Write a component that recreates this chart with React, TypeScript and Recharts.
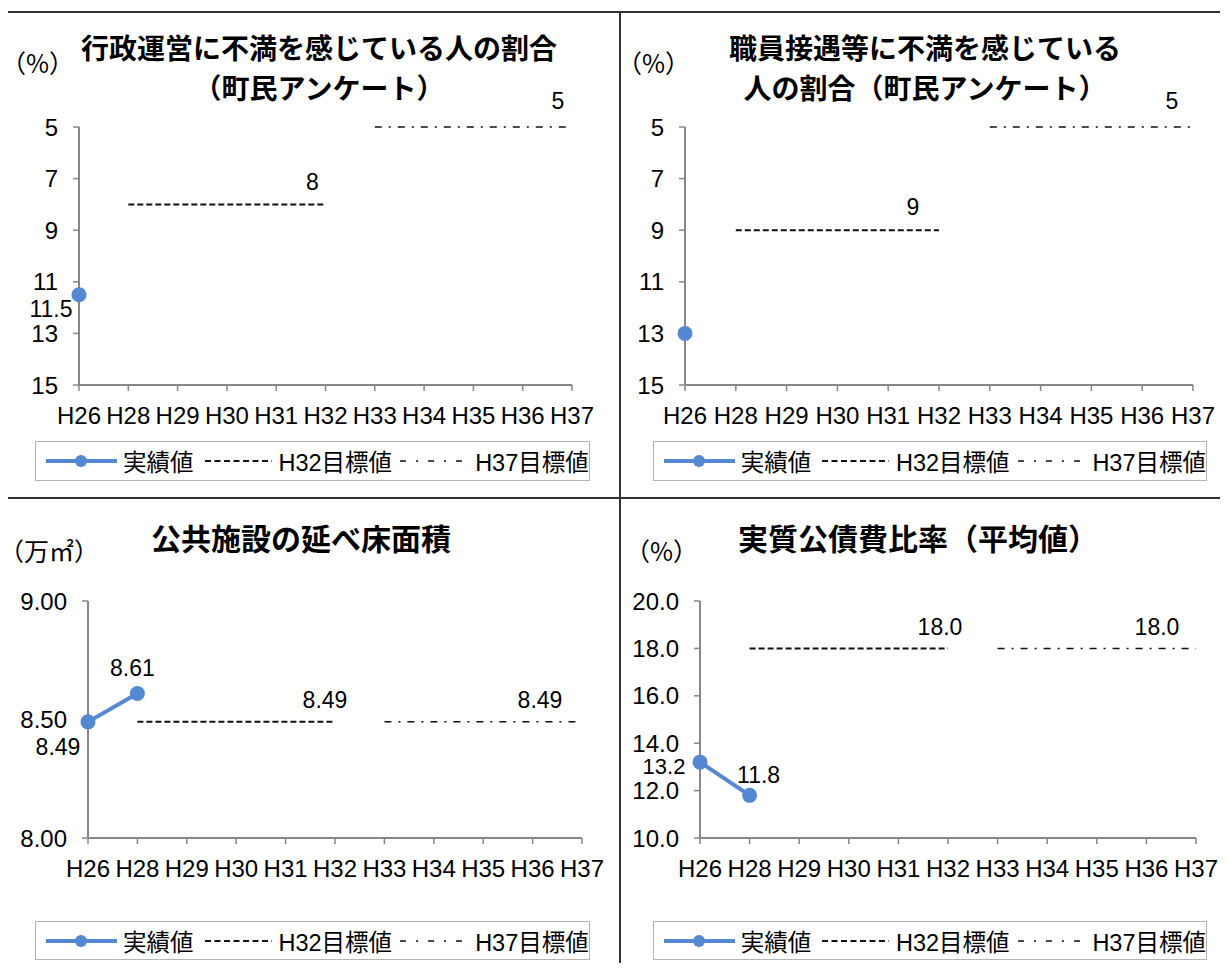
import React from "react";
import { LineChart, Line, XAxis, YAxis, Legend } from "recharts";

const YEARS = ["H26", "H28", "H29", "H30", "H31", "H32", "H33", "H34", "H35", "H36", "H37"];

// 行政運営に不満を感じている人の割合
const GYOSEI_ACTUAL = [11.5, null, null, null, null, null, null, null, null, null, null];
const GYOSEI_H32 = [null, 8, 8, 8, 8, 8, null, null, null, null, null];
const GYOSEI_H37 = [null, null, null, null, null, null, 5, 5, 5, 5, 5];

// 職員接遇等に不満を感じている人の割合
const SHOKUIN_ACTUAL = [13, null, null, null, null, null, null, null, null, null, null];
const SHOKUIN_H32 = [null, 9, 9, 9, 9, 9, null, null, null, null, null];
const SHOKUIN_H37 = [null, null, null, null, null, null, 5, 5, 5, 5, 5];

// 公共施設の延べ床面積
const SHISETSU_ACTUAL = [8.49, 8.61, null, null, null, null, null, null, null, null, null];
const SHISETSU_H32 = [null, 8.49, 8.49, 8.49, 8.49, 8.49, null, null, null, null, null];
const SHISETSU_H37 = [null, null, null, null, null, null, 8.49, 8.49, 8.49, 8.49, 8.49];

// 実質公債費比率（平均値）
const KOSAI_ACTUAL = [13.2, 11.8, null, null, null, null, null, null, null, null, null];
const KOSAI_H32 = [null, 18, 18, 18, 18, 18, null, null, null, null, null];
const KOSAI_H37 = [null, null, null, null, null, null, 18, 18, 18, 18, 18];

const PERCENT_TICKS = [5, 7, 9, 11, 13, 15];
const AREA_TICKS = [8, 8.5, 9];
const RATIO_TICKS = [10, 12, 14, 16, 18, 20];

const BLUE = "#5588d2";
const AXIS = "#878787";
const NUM_FONT = "'Liberation Sans', Arial, 'Noto Sans CJK JP', sans-serif";
const JP_FONT = "'Noto Sans CJK JP', 'Noto Sans CJK SC', sans-serif";
const FS = 24;

const buildRows = (actual: (number | null)[], h32: (number | null)[], h37: (number | null)[]) =>
  YEARS.map((year, i) => ({ year, actual: actual[i], h32: h32[i], h37: h37[i] }));

// [dx, dy, fontSize?] relative to the point
type Offsets = Record<number, [number, number, number?]>;

const makeLabel = (offsets: Offsets, fmt: (v: number) => string) => (props: any) => {
  const { x, y, value, index } = props;
  const off = offsets[index];
  if (!off || value == null) return null;
  return (
    <text
      key={`lbl-${index}`}
      x={x + off[0]}
      y={y + off[1]}
      textAnchor="middle"
      dominantBaseline="central"
      fontSize={off[2] ?? 23}
      fontFamily={NUM_FONT}
      fill="#000"
    >
      {fmt(value)}
    </text>
  );
};

const LegendBox = ({ width, height }: { width: number; height: number }) => (
  <div
    style={{
      width,
      height,
      boxSizing: "border-box",
      border: "1.5px solid #b4b4b4",
      display: "flex",
      alignItems: "center",
      paddingLeft: 10,
      fontFamily: NUM_FONT,
      fontSize: 23.5,
      color: "#000",
      whiteSpace: "nowrap",
      overflow: "hidden",
      background: "#fff",
    }}
  >
    <svg width={71} height={20}>
      <line x1={0} y1={10} x2={71} y2={10} stroke={BLUE} strokeWidth={4} />
      <circle cx={35} cy={10} r={6} fill={BLUE} />
    </svg>
    <span style={{ marginLeft: 6 }}>実績値</span>
    <svg width={67} height={20} style={{ marginLeft: 11 }}>
      <line x1={0} y1={10} x2={67} y2={10} stroke="#111" strokeWidth={2} strokeDasharray="6 3.5" />
    </svg>
    <span style={{ marginLeft: 7 }}>H32目標値</span>
    <svg width={65} height={20} style={{ marginLeft: 8 }}>
      <line x1={0} y1={10} x2={65} y2={10} stroke="#111" strokeWidth={1.5} strokeDasharray="6 10 2 10" />
    </svg>
    <span style={{ marginLeft: 10 }}>H37目標値</span>
  </div>
);

type PanelProps = {
  left: number;
  top: number;
  width: number;
  height: number;
  rows: any[];
  title: string[];
  titleSize: number;
  titleX: number;
  titleY: number;
  unit: string;
  unitX: number;
  unitY: number;
  margin: { top: number; right: number; bottom: number; left: number };
  yWidth: number;
  domain: [number, number];
  ticks: number[];
  reversed?: boolean;
  fmt: (v: number) => string;
  labels: { actual: Offsets; h32: Offsets; h37: Offsets };
  legend: { left: number; top: number; width: number; height: number };
};

const Panel = (p: PanelProps) => (
  <div style={{ position: "absolute", left: p.left, top: p.top, width: p.width, height: p.height }}>
    <div
      style={{
        position: "absolute",
        left: p.titleX - 300,
        top: p.titleY,
        width: 600,
        textAlign: "center",
        fontFamily: JP_FONT,
        fontWeight: 700,
        fontSize: p.titleSize,
        lineHeight: "40px",
        color: "#000",
        zIndex: 2,
      }}
    >
      {p.title.map((t) => (
        <div key={t}>{t}</div>
      ))}
    </div>
    <div
      style={{
        position: "absolute",
        left: p.unitX,
        top: p.unitY,
        fontFamily: JP_FONT,
        fontSize: 25,
        lineHeight: "28px",
        color: "#000",
        zIndex: 2,
      }}
    >
      {p.unit}
    </div>
    <LineChart width={p.width} height={p.height} data={p.rows} margin={p.margin}>
      <XAxis
        dataKey="year"
        scale="point"
        padding={{ left: 0, right: 0 }}
        interval={0}
        height={50}
        tickSize={6}
        tickMargin={16}
        axisLine={{ stroke: AXIS, strokeWidth: 2 }}
        tickLine={{ stroke: AXIS, strokeWidth: 1.5 }}
        tick={{ fontSize: FS, fill: "#000", fontFamily: NUM_FONT }}
      />
      <YAxis
        type="number"
        domain={p.domain}
        ticks={p.ticks}
        reversed={p.reversed}
        interval={0}
        width={p.yWidth}
        tickSize={6}
        tickMargin={15}
        tickFormatter={p.fmt}
        axisLine={{ stroke: AXIS, strokeWidth: 2 }}
        tickLine={{ stroke: AXIS, strokeWidth: 1.5 }}
        tick={{ fontSize: FS, fill: "#000", fontFamily: NUM_FONT }}
      />
      <Legend
        layout="horizontal"
        align="center"
        verticalAlign="middle"
        wrapperStyle={{ left: p.legend.left, top: p.legend.top, width: p.legend.width, height: p.legend.height }}
        content={() => <LegendBox width={p.legend.width} height={p.legend.height} />}
      />
      <Line
        dataKey="h32"
        name="H32目標値"
        stroke="#111"
        strokeWidth={2}
        strokeDasharray="6 3"
        dot={false}
        activeDot={false}
        isAnimationActive={false}
        label={makeLabel(p.labels.h32, p.fmt)}
      />
      <Line
        dataKey="h37"
        name="H37目標値"
        stroke="#111"
        strokeWidth={1.5}
        strokeDasharray="7 7 2 7"
        dot={false}
        activeDot={false}
        isAnimationActive={false}
        label={makeLabel(p.labels.h37, p.fmt)}
      />
      <Line
        dataKey="actual"
        name="実績値"
        stroke={BLUE}
        strokeWidth={4}
        dot={{ r: 7.5, fill: BLUE, stroke: BLUE, strokeWidth: 0 }}
        activeDot={false}
        isAnimationActive={false}
        label={makeLabel(p.labels.actual, p.fmt)}
      />
    </LineChart>
  </div>
);

const plain = (v: number) => String(v);
const two = (v: number) => v.toFixed(2);
const one = (v: number) => v.toFixed(1);

const line = (style: React.CSSProperties) => (
  <div style={{ position: "absolute", background: "#333", ...style }} />
);

export default function App() {
  return (
    <div style={{ position: "relative", width: 1228, height: 971, margin: -8, background: "#fff", overflow: "hidden" }}>
      <Panel
        left={5}
        top={11}
        width={615}
        height={486}
        rows={buildRows(GYOSEI_ACTUAL, GYOSEI_H32, GYOSEI_H37)}
        title={["行政運営に不満を感じている人の割合", "（町民アンケート）"]}
        titleSize={28}
        titleX={314}
        titleY={16}
        unit="（%）"
        unitX={-4}
        unitY={37}
        margin={{ top: 116, right: 48, bottom: 62, left: 14 }}
        yWidth={60}
        domain={[5, 15]}
        ticks={PERCENT_TICKS}
        reversed
        fmt={plain}
        labels={{ actual: { 0: [-28, 14] }, h32: { 5: [-13, -22] }, h37: { 10: [-14, -26] } }}
        legend={{ left: 30, top: 430, width: 555, height: 40 }}
      />
      <Panel
        left={620}
        top={11}
        width={608}
        height={486}
        rows={buildRows(SHOKUIN_ACTUAL, SHOKUIN_H32, SHOKUIN_H37)}
        title={["職員接遇等に不満を感じている", "人の割合（町民アンケート）"]}
        titleX={305}
        titleSize={28}
        titleY={16}
        unit="（%）"
        unitX={-3}
        unitY={37}
        margin={{ top: 116, right: 35, bottom: 62, left: 10 }}
        yWidth={55}
        domain={[5, 15]}
        ticks={PERCENT_TICKS}
        reversed
        fmt={plain}
        labels={{ actual: {}, h32: { 5: [-26, -23] }, h37: { 10: [-21, -26] } }}
        legend={{ left: 33, top: 430, width: 554, height: 40 }}
      />
      <Panel
        left={5}
        top={498}
        width={615}
        height={473}
        rows={buildRows(SHISETSU_ACTUAL, SHISETSU_H32, SHISETSU_H37)}
        title={["公共施設の延べ床面積"]}
        titleSize={30}
        titleX={296}
        titleY={19}
        unit="（万㎡）"
        unitX={-6}
        unitY={38}
        margin={{ top: 103, right: 38, bottom: 83, left: 13 }}
        yWidth={70}
        domain={[8, 9]}
        ticks={AREA_TICKS}
        fmt={two}
        labels={{ actual: { 0: [-30, 25], 1: [-5, -25] }, h32: { 5: [-10, -22] }, h37: { 10: [-42, -22] } }}
        legend={{ left: 30, top: 423, width: 555, height: 39 }}
      />
      <Panel
        left={620}
        top={498}
        width={608}
        height={473}
        rows={buildRows(KOSAI_ACTUAL, KOSAI_H32, KOSAI_H37)}
        title={["実質公債費比率（平均値）"]}
        titleSize={30}
        titleX={298}
        titleY={19}
        unit="（%）"
        unitX={5}
        unitY={38}
        margin={{ top: 103, right: 32, bottom: 83, left: 10 }}
        yWidth={70}
        domain={[10, 20]}
        ticks={RATIO_TICKS}
        fmt={one}
        labels={{ actual: { 0: [-36, 4.5, 22], 1: [9, -20] }, h32: { 5: [-8, -21] }, h37: { 10: [-39, -21] } }}
        legend={{ left: 33, top: 423, width: 554, height: 39 }}
      />
      {line({ left: 5, top: 11, width: 1223, height: 2 })}
      {line({ left: 4, top: 11, width: 2, height: 960 })}
      {line({ left: 619, top: 11, width: 2, height: 960 })}
      {line({ left: 5, top: 497, width: 1223, height: 2 })}
    </div>
  );
}
